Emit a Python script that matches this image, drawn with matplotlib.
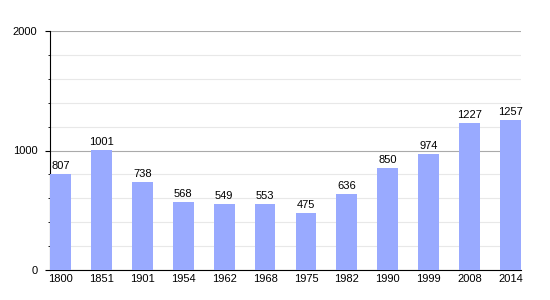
import matplotlib.pyplot as plt
from matplotlib.ticker import MultipleLocator

plt.rcParams["font.family"] = ["Liberation Sans", "DejaVu Sans"]

years = ["1800", "1851", "1901", "1954", "1962", "1968", "1975", "1982", "1990", "1999", "2008", "2014"]
population = [807, 1001, 738, 568, 549, 553, 475, 636, 850, 974, 1227, 1257]

fig = plt.figure(figsize=(5.5, 3), dpi=100)
ax = fig.add_axes([50 / 550, 30 / 300, 471 / 550, 239 / 300])

x = range(len(years))
ax.bar(x, population, width=0.51, color="#99aaff", zorder=3)
for i, v in enumerate(population):
    ax.text(i, v + 25, str(v), ha="center", va="bottom", fontsize=8, zorder=4)

ax.set_xlim(-0.26, len(years) - 1 + 0.26)
ax.set_ylim(0, 2000)
ax.set_xticks(list(x))
ax.set_xticklabels(years, fontsize=8)
ax.yaxis.set_major_locator(MultipleLocator(1000))
ax.yaxis.set_minor_locator(MultipleLocator(200))
ax.tick_params(axis="y", which="major", length=3.6, labelsize=8, pad=5.5)
ax.tick_params(axis="y", which="minor", length=1.5)
ax.tick_params(axis="x", length=0, labelsize=8, pad=3)

ax.grid(axis="y", which="major", color="#aaaaaa", linewidth=0.8, zorder=0)
ax.grid(axis="y", which="minor", color="#e8e8e8", linewidth=0.8, zorder=0)
for s in ["top", "right"]:
    ax.spines[s].set_visible(False)

fig.savefig("out.png")
